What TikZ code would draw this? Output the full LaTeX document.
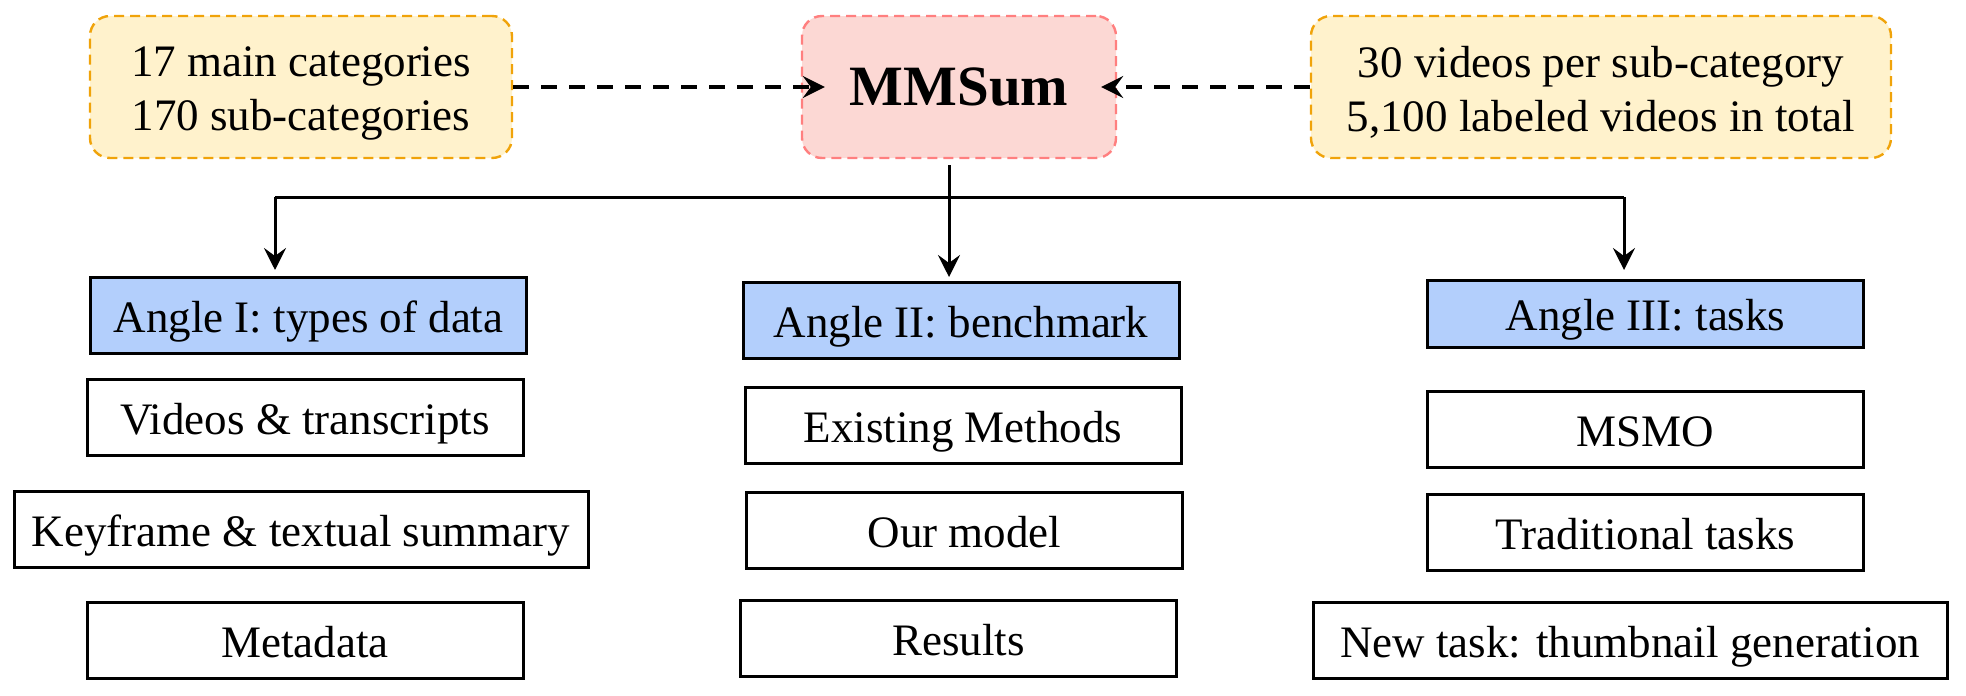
\documentclass[tikz,border=0pt]{standalone}
\usepackage{fontspec}
\setmainfont{Liberation Serif}
\usetikzlibrary{arrows.meta}
\definecolor{infofill}{HTML}{FFF2CC}
\definecolor{infoline}{HTML}{F0A30A}
\definecolor{mainfill}{HTML}{FCD8D4}
\definecolor{mainline}{HTML}{FF7F7F}
\definecolor{anglefill}{HTML}{B3CFFC}
\newcommand{\toprule}{\rule{0pt}{0.95em}}

\begin{document}
\begin{tikzpicture}[x=0.5pt,y=-0.5pt,
  every node/.style={inner sep=0pt, font=\fontsize{22.5}{27}\selectfont},
  infobox/.style={draw=infoline, fill=infofill, dashed, dash pattern=on 5pt off 3pt, line width=1.2pt, rounded corners=10pt, minimum height=71pt, align=center},
  mainbox/.style={draw=mainline, fill=mainfill, dashed, dash pattern=on 5pt off 3pt, line width=1.2pt, rounded corners=10pt, minimum width=157pt, minimum height=71pt, font=\fontsize{28.5}{34}\selectfont\bfseries, text height=18.8pt, text depth=0pt},
  anglebox/.style={draw, fill=anglefill, line width=1.5pt, minimum width=218pt, minimum height=38pt, text height=20.2pt, text depth=3.2pt},
  itembox/.style={draw, line width=1.5pt, minimum width=218pt, minimum height=38pt, text height=20.2pt, text depth=3.2pt},
  feed/.style={-{Stealth[length=11pt,width=11pt,inset=4pt]}, line width=2pt, dash pattern=on 8pt off 6pt},
  tree/.style={line width=1.5pt},
  treearrow/.style={tree, -{Stealth[length=11pt,width=11pt,inset=4pt]}}]
\useasboundingbox (0,0) rectangle (1966,696);
\node[infobox, minimum width=211pt] (cats) at (301,87) {\toprule 17 main categories\\170 sub-categories};
\node[mainbox] (mmsum) at (959,87) {MMSum};
\node[infobox, minimum width=290pt] (vids) at (1601,87) {\toprule 30 videos per sub-category\\5,100 labeled videos in total};
\node[anglebox] (angA) at (308.5,315) {Angle I: types of data};
\node[anglebox] (angB) at (961,320) {Angle II: benchmark};
\node[anglebox, minimum height=33.5pt] (angC) at (1645.5,313.5) {Angle III: tasks};
\node[itembox] (a1) at (305,417) {Videos \& transcripts};
\node[itembox, minimum width=287pt] (a2) at (301,529) {Keyframe \& textual summary};
\node[itembox] (a3) at (305,640) {Metadata};
\node[itembox] (b1) at (963,425) {Existing Methods};
\node[itembox] (b2) at (964.5,530.5) {Our model};
\node[itembox] (b3) at (958.5,638.5) {Results};
\node[itembox] (c1) at (1645.5,429) {MSMO};
\node[itembox] (c2) at (1645.5,532) {Traditional tasks};
\node[itembox, minimum width=317pt] (c3) at (1630,640) {New task: thumbnail generation};
\coordinate (busL) at (275,197);
\coordinate (busM) at (949,197);
\coordinate (busR) at (1624,197);
\coordinate (tipA) at (275,270);
\coordinate (tipB) at (949,277);
\coordinate (tipC) at (1624,270);
\draw[feed, shorten >=-12pt] (cats) -- (mmsum);
\draw[feed, shorten >=-8pt] (vids) -- (mmsum);
\draw[tree] (busL) -- (busR);
\draw[treearrow, shorten <=3pt] (mmsum.south -| busM) -- (tipB);
\draw[treearrow] (busL) -- (tipA);
\draw[treearrow] (busR) -- (tipC);
\end{tikzpicture}
\end{document}
